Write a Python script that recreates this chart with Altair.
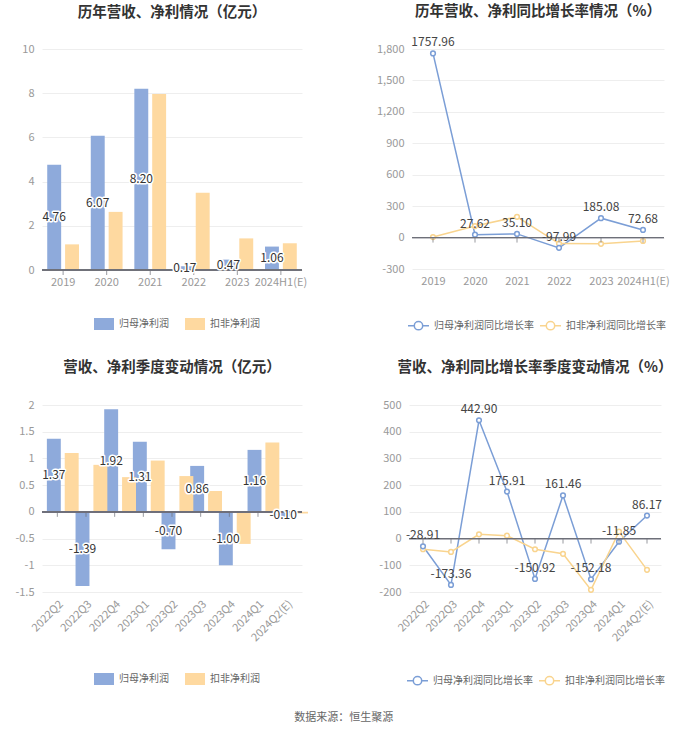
import altair as alt
import pandas as pd

# ---------------- data ----------------
years = ["2019", "2020", "2021", "2022", "2023", "2024H1(E)"]
np_parent = [4.76, 6.07, 8.20, 0.17, 0.47, 1.06]
np_deduct = [1.16, 2.63, 7.96, 3.49, 1.43, 1.21]
yoy_parent = [1757.96, 27.62, 35.10, -97.99, 185.08, 72.68]
yoy_deduct = [5, 110, 198, -57, -60, -32]

quarters = ["2022Q2", "2022Q3", "2022Q4", "2023Q1", "2023Q2", "2023Q3", "2023Q4", "2024Q1", "2024Q2(E)"]
q_parent = [1.37, -1.39, 1.92, 1.31, -0.70, 0.86, -1.00, 1.16, -0.10]
q_deduct = [1.10, 0.88, 0.65, 0.96, 0.67, 0.39, -0.60, 1.30, -0.03]
q_yoy_parent = [-28.91, -173.36, 442.90, 175.91, -150.92, 161.46, -152.18, -11.85, 86.17]
q_yoy_deduct = [-40, -50, 16, 11, -40, -57, -192, 26, -117]

tl_ticks = [0, 2, 4, 6, 8, 10]
tr_ticks = [-300, 0, 300, 600, 900, 1200, 1500, 1800]
bl_ticks = [-1.5, -1, -0.5, 0, 0.5, 1, 1.5, 2]
br_ticks = [-200, -100, 0, 100, 200, 300, 400, 500]

S1, S2 = "归母净利润", "扣非净利润"
L1, L2 = "归母净利润同比增长率", "扣非净利润同比增长率"

titles = ["历年营收、净利情况（亿元）", "历年营收、净利同比增长率情况（%）",
          "营收、净利季度变动情况（亿元）", "营收、净利同比增长率季度变动情况（%）"]
source = "数据来源：恒生聚源"

# ---------------- style ----------------
BLUE_BAR, ORANGE_BAR = "#8eaadb", "#fed9a0"
BLUE_LINE, ORANGE_LINE = "#7b9ed6", "#f9d48e"
FONT = "Noto Sans CJK SC"
RECT = "M-1,-0.6H1V0.6H-1Z"
LINE_SYM = ("M-1,0H-0.4M0.4,0H1M0.4,0A0.4,0.4 0 1 1 -0.4,0"
            "A0.4,0.4 0 1 1 0.4,0Z")


def minus_fix(fmt):
    return "replace(format(datum.value, '%s'), '\u2212', '-')" % fmt


def title_params(text, off):
    return alt.TitleParams(text, fontSize=14.5, font=FONT, fontWeight="bold",
                           color="#333333", anchor="middle", frame="group", offset=off)


def x_axis(angle):
    return alt.Axis(title=None, domain=False, ticks=False, grid=False, labelAngle=angle,
                    labelColor="#999999", labelFontSize=11, labelFont=FONT, labelPadding=6,
                    labelOverlap=False)


def y_axis(ticks, fmt):
    return alt.Axis(title=None, values=ticks, domain=False, ticks=False, labelColor="#999999",
                    labelFontSize=11, labelFont=FONT, labelPadding=8, gridColor="#eeeeee",
                    labelExpr=minus_fix(fmt), labelOverlap=False)


def bar_panel(cats, v1, v2, title, ticks, fmt, w, h, angle, lx, ly, po, toff):
    n = len(cats)
    df = pd.DataFrame({"cat": cats + cats, "series": [S1] * n + [S2] * n, "value": v1 + v2})
    lab = pd.DataFrame({"cat": cats, "series": [S1] * n, "mid": [v / 2 for v in v1],
                        "label": ["%.2f" % v for v in v1]})
    zdf = pd.DataFrame({"cat": cats, "z": [0] * n})
    scale_x = alt.Scale(paddingInner=0.27, paddingOuter=po)
    xenc = alt.X("cat:N", sort=cats, scale=scale_x, axis=x_axis(angle))
    xoff = alt.XOffset("series:N", sort=[S1, S2],
                       scale=alt.Scale(domain=[S1, S2], paddingInner=0.22))
    yscale = alt.Scale(domain=[ticks[0], ticks[-1]], nice=False, zero=False)
    yax = y_axis(ticks, fmt)
    bars = alt.Chart(df).mark_bar().encode(
        x=xenc, xOffset=xoff,
        y=alt.Y("value:Q", scale=yscale, axis=yax),
        color=alt.Color("series:N", scale=alt.Scale(domain=[S1, S2], range=[BLUE_BAR, ORANGE_BAR]),
                        legend=alt.Legend(orient="none", legendX=lx, legendY=ly, direction="horizontal",
                                          title=None, symbolType=RECT, symbolSize=400,
                                          symbolStrokeWidth=0, labelFontSize=10, labelFont=FONT,
                                          labelColor="#666666", columnPadding=16, labelOffset=5)),
    )
    zero = alt.Chart(zdf).mark_rule(color="#6e7079", strokeWidth=1).encode(
        y=alt.Y("z:Q", scale=yscale, axis=yax))
    tks = alt.Chart(zdf).mark_point(shape="M0,0L0,1", size=100, filled=False, color="#6e7079",
                                    strokeWidth=1).encode(x=xenc, y=alt.Y("z:Q", scale=yscale, axis=yax))
    halo = alt.Chart(lab).mark_text(fontSize=12, font=FONT, color="white", stroke="white",
                                    strokeWidth=3, strokeJoin="round").encode(
        x=xenc, xOffset=xoff, y=alt.Y("mid:Q", scale=yscale, axis=yax), text="label:N")
    txt = alt.Chart(lab).mark_text(fontSize=12, font=FONT, color="#333333").encode(
        x=xenc, xOffset=xoff, y=alt.Y("mid:Q", scale=yscale, axis=yax), text="label:N")
    return alt.layer(bars, zero, tks, halo, txt).properties(
        width=w, height=h, title=title_params(title, toff))


def line_panel(cats, v1, v2, title, ticks, fmt, w, h, angle, lx, ly, toff):
    n = len(cats)
    df = pd.DataFrame({"cat": cats + cats, "series": [L1] * n + [L2] * n, "value": v1 + v2})
    lab = pd.DataFrame({"cat": cats, "value": v1, "label": ["%.2f" % v for v in v1]})
    zdf = pd.DataFrame({"cat": cats, "z": [0] * n})
    scale_x = alt.Scale(type="point", padding=0.5)
    xenc = alt.X("cat:N", sort=cats, scale=scale_x, axis=x_axis(angle))
    yscale = alt.Scale(domain=[ticks[0], ticks[-1]], nice=False, zero=False)
    yax = y_axis(ticks, fmt)
    lines = alt.Chart(df).mark_line(strokeWidth=1.5, point=alt.OverlayMarkDef(
        filled=False, fill="white", size=22, strokeWidth=1.5)).encode(
        x=xenc,
        y=alt.Y("value:Q", scale=yscale, axis=yax),
        color=alt.Color("series:N", sort=[L1, L2],
                        scale=alt.Scale(domain=[L1, L2], range=[BLUE_LINE, ORANGE_LINE]),
                        legend=alt.Legend(orient="none", legendX=lx, legendY=ly, direction="horizontal",
                                          title=None, symbolType=LINE_SYM, symbolSize=441,
                                          symbolStrokeWidth=1.5, symbolFillColor="white",
                                          labelFontSize=10, labelFont=FONT, labelColor="#666666",
                                          columnPadding=3, labelOffset=4)),
        order=alt.Order("series:N", sort="descending"),
    )
    zero = alt.Chart(zdf).mark_rule(color="#6e7079", strokeWidth=1).encode(
        y=alt.Y("z:Q", scale=yscale, axis=yax))
    tks = alt.Chart(zdf).mark_point(shape="M0,0L0,1", size=100, filled=False, color="#6e7079",
                                    strokeWidth=1).encode(x=xenc, y=alt.Y("z:Q", scale=yscale, axis=yax))
    txt = alt.Chart(lab).mark_text(fontSize=12, font=FONT, color="#444444", dy=-11).encode(
        x=xenc, y=alt.Y("value:Q", scale=yscale, axis=yax), text="label:N")
    return alt.layer(lines, zero, tks, txt).properties(
        width=w, height=h, title=title_params(title, toff))


tl = bar_panel(years, np_parent, np_deduct, titles[0], tl_ticks, "~g", 260, 221, 0, 52, 265, 0.12, 23)
tr = line_panel(years, yoy_parent, yoy_deduct, titles[1], tr_ticks, ",", 252, 220, 0, -5, 265, 17)
bl = bar_panel(quarters, q_parent, q_deduct, titles[2], bl_ticks, "~g", 260, 187, -45, 52, 264, 0.17, 24)
br = line_panel(quarters, q_yoy_parent, q_yoy_deduct, titles[3], br_ticks, "~g", 252, 187, -45, -3, 264, 24)

top = alt.hconcat(tl, tr, spacing=69).resolve_scale(color="independent", x="independent", y="independent")
bottom = alt.hconcat(bl, br, spacing=70).resolve_scale(color="independent", x="independent", y="independent")

chart = alt.vconcat(top, bottom, spacing=26).resolve_scale(
    color="independent", x="independent", y="independent"
).properties(
    title=alt.TitleParams(source, orient="bottom", anchor="middle", fontSize=11, font=FONT,
                          fontWeight="normal", color="#666666", offset=24),
    padding={"left": 14, "top": 3, "right": 5, "bottom": 5},
    background="white",
).configure_view(stroke=None).configure_legend(padding=0).configure_axis(labelOverlap=False)

chart.save("out.html", embed_options={"renderer": "svg", "actions": False})
